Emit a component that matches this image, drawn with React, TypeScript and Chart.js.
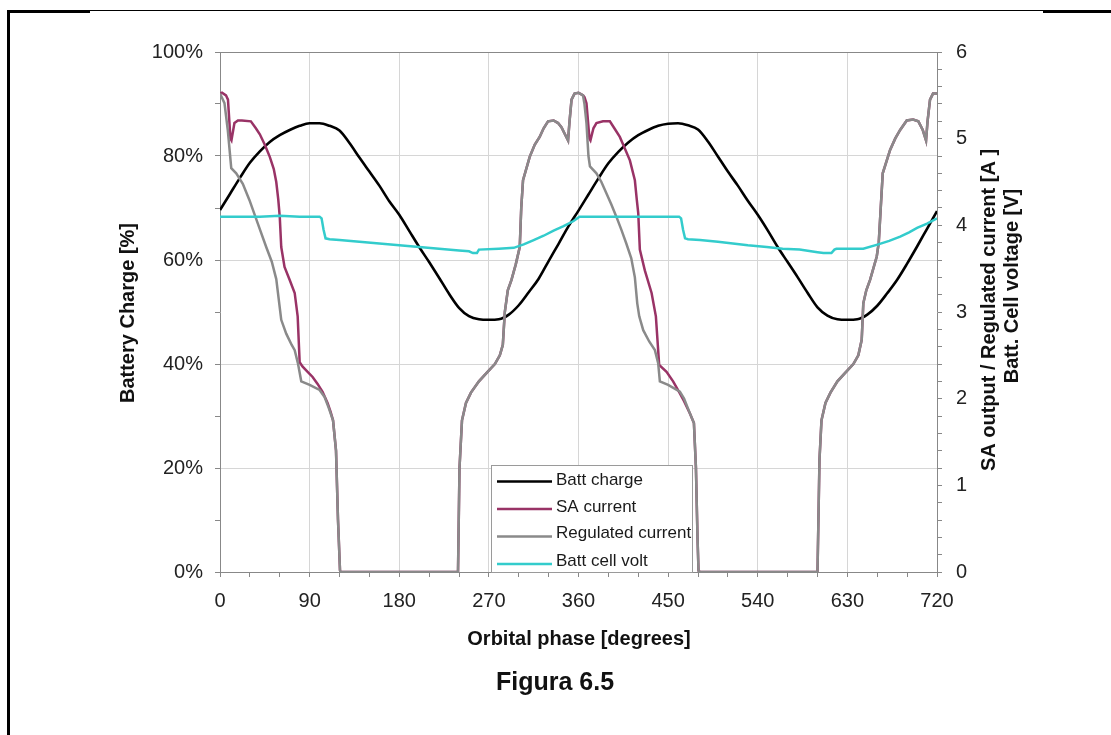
import { useEffect, useRef } from 'react';
import { Chart, registerables } from 'chart.js';

Chart.register(...registerables);

// ---- data ---------------------------------------------------------------
// Battery state of charge [%], sampled every 10 degrees of orbital phase
const chargePhase = [
  0, 10, 20, 30, 40, 50, 60, 70, 80, 90, 100, 110, 120, 130, 140, 150, 160, 170, 180,
  190, 200, 210, 220, 230, 240, 250, 260, 270, 280, 290, 300, 310, 320, 330, 340, 350,
  360, 370, 380, 390, 400, 410, 420, 430, 440, 450, 460, 470, 480, 490, 500, 510, 520,
  530, 540, 550, 560, 570, 580, 590, 600, 610, 620, 630, 640, 650, 660, 670, 680, 690,
  700, 710, 720,
];
const battCharge = [
  69.6, 72.7, 75.8, 78.7, 80.9, 82.7, 84.0, 85.0, 85.8, 86.3, 86.3, 85.8, 84.9, 82.5,
  79.7, 77.0, 74.3, 71.3, 68.7, 65.6, 62.5, 59.6, 56.6, 53.5, 50.8, 49.2, 48.6, 48.5,
  48.6, 49.5, 51.3, 53.8, 56.4, 59.8, 63.1, 66.5, 69.5, 72.6, 75.7, 78.6, 80.8, 82.6,
  84.0, 85.0, 85.8, 86.2, 86.3, 85.9, 85.1, 82.8, 79.9, 77.0, 74.3, 71.4, 68.7, 65.7,
  62.5, 59.6, 56.7, 53.7, 50.9, 49.3, 48.6, 48.5, 48.6, 49.5, 51.2, 53.6, 56.2, 59.3,
  62.6, 66.0, 69.4,
];

// Solar array output current [A]
const saPhase = [
  0, 2, 6, 8, 10.5, 11.5, 14.5, 18, 22, 31, 36, 40, 45, 50, 54, 56.5, 58.5, 60, 61.5,
  64.8, 70, 75, 78, 80, 83, 88, 93, 98, 103, 108, 111, 113.5, 116.5, 118.5, 120.5, 121,
  239, 240.5, 243, 247, 252, 260, 268, 276, 281, 284, 286, 289, 292.7, 297, 301, 302.5,
  304.3, 311, 316, 321, 325, 329.4, 335, 339.5, 343, 346, 349.5, 351, 353, 356, 360,
  364.5, 366, 368, 371, 372, 375, 378, 384.6, 391.5, 396, 401.5, 406, 411.6, 416.6,
  418.5, 420, 421.6, 426.6, 433.4, 437.7, 441, 448.4, 455, 461.8, 466, 471.9, 475.9,
  477.9, 479.5, 480.5, 481, 600, 602, 604, 608, 613, 620, 628, 636, 641, 644.4, 646,
  649, 652.8, 659.5, 661.5, 663, 665.5, 672.9, 678, 683, 689.6, 696, 701.3, 705.7, 709,
  710.5, 713, 716, 720,
];
const saCurrent = [
  5.52, 5.53, 5.5, 5.45, 5.0, 4.98, 5.18, 5.21, 5.21, 5.2, 5.12, 5.05, 4.93, 4.79, 4.65,
  4.5, 4.3, 4.1, 3.75, 3.52, 3.37, 3.22, 2.95, 2.42, 2.37, 2.31, 2.25, 2.17, 2.08, 1.95,
  1.85, 1.75, 1.4, 0.6, 0.02, 0, 0, 1.2, 1.75, 1.95, 2.07, 2.2, 2.3, 2.4, 2.5, 2.62,
  3.0, 3.25, 3.37, 3.55, 3.75, 4.2, 4.52, 4.79, 4.93, 5.02, 5.12, 5.2, 5.21, 5.18, 5.13,
  5.06, 4.98, 5.2, 5.45, 5.52, 5.53, 5.5, 5.48, 5.41, 5.0, 4.98, 5.12, 5.18, 5.2, 5.2,
  5.12, 5.02, 4.9, 4.75, 4.52, 4.3, 4.14, 3.72, 3.48, 3.22, 2.95, 2.39, 2.31, 2.2, 2.06,
  1.97, 1.83, 1.72, 1.21, 0.4, 0.02, 0, 0, 1.3, 1.75, 1.95, 2.07, 2.2, 2.3, 2.4, 2.5,
  2.68, 3.1, 3.25, 3.37, 3.64, 3.8, 4.1, 4.6, 4.87, 5.0, 5.1, 5.21, 5.22, 5.2, 5.1,
  4.98, 5.2, 5.45, 5.52, 5.52,
];

// Regulated current [A]
const regPhase = [
  0, 1, 4.5, 7.8, 11.3, 16.3, 22.9, 29.6, 38, 46.4, 52, 56.5, 61.5, 66.5, 72, 75, 78.2,
  81.6, 90, 100, 105, 109, 113.5, 116.5, 118.5, 120.5, 121, 239, 240.5, 243, 247, 252,
  260, 268, 276, 281, 284, 286, 289, 292.7, 297, 301, 302.5, 304.3, 311, 316, 321, 325,
  329.4, 335, 339.5, 343, 346, 349.5, 351, 353, 356, 360, 364.5, 366, 368, 370, 371.5,
  378, 383, 388, 393, 398, 403, 408, 413, 416.6, 419, 421, 425, 431, 436.7, 440, 441.7,
  450, 461.8, 466, 471.9, 475.9, 477.9, 479.5, 480.5, 481, 600, 602, 604, 608, 613, 620,
  628, 636, 641, 644.4, 646, 649, 652.8, 659.5, 661.5, 663, 665.5, 672.9, 678, 683,
  689.6, 696, 701.3, 705.7, 709, 710.5, 713, 716, 720,
];
const regCurrent = [
  5.52, 5.52, 5.41, 5.1, 4.66, 4.6, 4.48, 4.29, 4.02, 3.75, 3.58, 3.38, 2.91, 2.75, 2.62,
  2.56, 2.41, 2.2, 2.16, 2.1, 2.02, 1.9, 1.75, 1.4, 0.6, 0.02, 0, 0, 1.2, 1.75, 1.95,
  2.07, 2.2, 2.3, 2.4, 2.5, 2.62, 3.0, 3.25, 3.37, 3.55, 3.75, 4.2, 4.52, 4.79, 4.93,
  5.02, 5.12, 5.2, 5.21, 5.18, 5.13, 5.06, 4.98, 5.2, 5.45, 5.52, 5.53, 5.5, 5.4, 5.18,
  4.8, 4.68, 4.6, 4.5, 4.37, 4.24, 4.1, 3.95, 3.79, 3.62, 3.4, 3.1, 2.95, 2.79, 2.66,
  2.56, 2.41, 2.2, 2.16, 2.08, 2.0, 1.83, 1.72, 1.21, 0.4, 0.02, 0, 0, 1.3, 1.75, 1.95,
  2.07, 2.2, 2.3, 2.4, 2.5, 2.68, 3.1, 3.25, 3.37, 3.64, 3.8, 4.1, 4.6, 4.87, 5.0, 5.1,
  5.21, 5.22, 5.2, 5.1, 4.98, 5.2, 5.45, 5.52, 5.52,
];

// Battery cell voltage [V]
const voltPhase = [
  0, 20, 40, 60, 80, 100, 102, 104, 106, 110, 120, 140, 160, 180, 200, 220, 240, 250,
  254, 258, 260, 280, 295, 305, 315, 325, 335, 345, 355, 361, 400, 440, 461, 463, 465,
  467, 470, 482, 500, 515, 530, 549, 565, 582, 600, 606, 614, 617, 619, 646, 661, 672,
  683, 692, 700, 710, 720,
];
const cellVolt = [
  4.1, 4.1, 4.1, 4.11, 4.1, 4.1, 4.08, 3.95, 3.85, 3.84, 3.83, 3.81, 3.79, 3.77, 3.75,
  3.73, 3.71, 3.7, 3.68, 3.68, 3.72, 3.73, 3.74, 3.78, 3.83, 3.88, 3.94, 3.99, 4.05, 4.1,
  4.1, 4.1, 4.1, 4.08, 3.95, 3.85, 3.84, 3.83, 3.81, 3.79, 3.77, 3.75, 3.73, 3.72, 3.69,
  3.68, 3.68, 3.72, 3.73, 3.73, 3.78, 3.82, 3.87, 3.92, 3.97, 4.02, 4.08,
];

const seriesNames = ['Batt charge', 'SA current', 'Regulated current', 'Batt cell volt'];
const seriesColors = ['#000000', '#993366', '#8a8a8a', '#33cccc'];

const xMajorStep = 90;
const leftMajorStep = 20;

const FONT = "'Liberation Sans', Arial, Helvetica, sans-serif";

const pts = (xs: number[], ys: number[]) => xs.map((x, i) => ({ x, y: ys[i] }));

// frame, axis titles, legend box and caption
const decorPlugin = {
  id: 'figureDecor',
  beforeDraw(chart: any) {
    const { ctx } = chart;
    ctx.save();
    ctx.fillStyle = '#ffffff';
    ctx.fillRect(0, 0, chart.width, chart.height);
    ctx.fillStyle = '#000000';
    ctx.fillRect(7, 10, 1104, 1);
    ctx.fillRect(7, 10, 83, 3);
    ctx.fillRect(1043, 10, 68, 3);
    ctx.fillRect(7, 10, 3, 725);
    ctx.restore();
  },
  afterDraw(chart: any) {
    const { ctx } = chart;
    ctx.save();
    ctx.fillStyle = '#111111';
    ctx.textAlign = 'center';
    ctx.textBaseline = 'alphabetic';

    ctx.font = `bold 20px ${FONT}`;
    ctx.fillText('Orbital phase [degrees]', 579, 645);

    const vText = (text: string, x: number, y: number) => {
      ctx.save();
      ctx.translate(x, y);
      ctx.rotate(-Math.PI / 2);
      ctx.fillText(text, 0, 0);
      ctx.restore();
    };
    vText('Battery Charge [%]', 134, 313);
    vText('SA output / Regulated current [A ]', 995, 310);
    vText('Batt. Cell voltage [V]', 1018, 286);

    ctx.font = `bold 25px ${FONT}`;
    ctx.fillText('Figura 6.5', 555, 690);

    // legend
    const lx = 491.5;
    const ly = 465.5;
    ctx.fillStyle = '#ffffff';
    ctx.fillRect(lx, ly, 201, 107);
    ctx.strokeStyle = '#9a9a9a';
    ctx.lineWidth = 1;
    ctx.strokeRect(lx, ly, 201, 107);
    const lineY = [481.5, 509, 536.5, 564];
    const textY = [480, 507, 533.5, 561];
    ctx.font = `17px ${FONT}`;
    ctx.textAlign = 'left';
    ctx.textBaseline = 'middle';
    seriesNames.forEach((name, i) => {
      ctx.strokeStyle = seriesColors[i];
      ctx.lineWidth = 2.5;
      ctx.beginPath();
      ctx.moveTo(497, lineY[i]);
      ctx.lineTo(552, lineY[i]);
      ctx.stroke();
      ctx.fillStyle = '#1a1a1a';
      ctx.fillText(name, 556, textY[i]);
    });
    ctx.restore();
  },
};

export default function App() {
  const canvasRef = useRef<HTMLCanvasElement>(null);

  useEffect(() => {
    if (!canvasRef.current) return;
    const tickFont = { family: FONT, size: 20 };
    const chart = new Chart(canvasRef.current, {
      type: 'line',
      data: {
        datasets: [
          {
            label: seriesNames[0],
            data: pts(chargePhase, battCharge),
            yAxisID: 'yCharge',
            borderColor: seriesColors[0],
            borderWidth: 2.6,
            cubicInterpolationMode: 'monotone',
            pointRadius: 0,
            order: 4,
          },
          {
            label: seriesNames[1],
            data: pts(saPhase, saCurrent),
            yAxisID: 'yRight',
            borderColor: seriesColors[1],
            borderWidth: 2.5,
            tension: 0,
            pointRadius: 0,
            order: 3,
          },
          {
            label: seriesNames[2],
            data: pts(regPhase, regCurrent),
            yAxisID: 'yRight',
            borderColor: seriesColors[2],
            borderWidth: 2.5,
            tension: 0,
            pointRadius: 0,
            order: 2,
          },
          {
            label: seriesNames[3],
            data: pts(voltPhase, cellVolt),
            yAxisID: 'yRight',
            borderColor: seriesColors[3],
            borderWidth: 2.5,
            tension: 0,
            pointRadius: 0,
            order: 1,
          },
        ],
      },
      options: {
        responsive: false,
        animation: false,
        devicePixelRatio: 1,
        layout: { padding: { top: 52, left: 0, right: 0, bottom: 0 } },
        plugins: {
          legend: { display: false },
          tooltip: { enabled: false },
          title: { display: false },
        },
        scales: {
          x: {
            type: 'linear',
            min: 0,
            max: 720,
            afterFit: (s: any) => {
              s.height = 163;
            },
            ticks: {
              stepSize: 30,
              autoSkip: false,
              maxRotation: 0,
              minRotation: 0,
              padding: 12,
              font: tickFont,
              color: '#222222',
              callback: (v: any) => (Number(v) % xMajorStep === 0 ? String(v) : ''),
            },
            grid: {
              color: (c: any) => {
                const v = c.tick ? c.tick.value : 0;
                return v % xMajorStep === 0 && v > 0 && v < 720 ? '#d6d6d6' : 'rgba(0,0,0,0)';
              },
              lineWidth: 1,
              tickColor: '#888888',
              tickLength: 5,
            },
            border: { color: '#888888', width: 1 },
          },
          yCharge: {
            type: 'linear',
            position: 'left',
            min: 0,
            max: 100,
            afterFit: (s: any) => {
              s.width = 220;
            },
            ticks: {
              stepSize: 10,
              autoSkip: false,
              padding: 12,
              font: tickFont,
              color: '#222222',
              callback: (v: any) => (Number(v) % leftMajorStep === 0 ? `${v}%` : ''),
            },
            grid: {
              color: (c: any) => {
                const v = c.tick ? c.tick.value : 0;
                if (v === 100) return '#888888';
                return v % leftMajorStep === 0 && v > 0 ? '#d6d6d6' : 'rgba(0,0,0,0)';
              },
              lineWidth: 1,
              tickColor: '#888888',
              tickLength: 5,
            },
            border: { color: '#888888', width: 1 },
          },
          yRight: {
            type: 'linear',
            position: 'right',
            min: 0,
            max: 6,
            afterFit: (s: any) => {
              s.width = 174;
            },
            ticks: {
              stepSize: 0.2,
              autoSkip: false,
              padding: 14,
              font: tickFont,
              color: '#222222',
              callback: (v: any) => {
                const n = Number(v);
                return Math.abs(n - Math.round(n)) < 1e-6 ? String(Math.round(n)) : '';
              },
            },
            grid: {
              drawOnChartArea: false,
              tickColor: '#888888',
              tickLength: 5,
            },
            border: { color: '#888888', width: 1 },
          },
        },
      },
      plugins: [decorPlugin],
    } as any);
    return () => chart.destroy();
  }, []);

  return (
    <div style={{ position: 'absolute', left: 0, top: 0, width: 1111, height: 735, background: '#ffffff' }}>
      <canvas ref={canvasRef} width={1111} height={735} style={{ display: 'block', width: 1111, height: 735 }} />
    </div>
  );
}
